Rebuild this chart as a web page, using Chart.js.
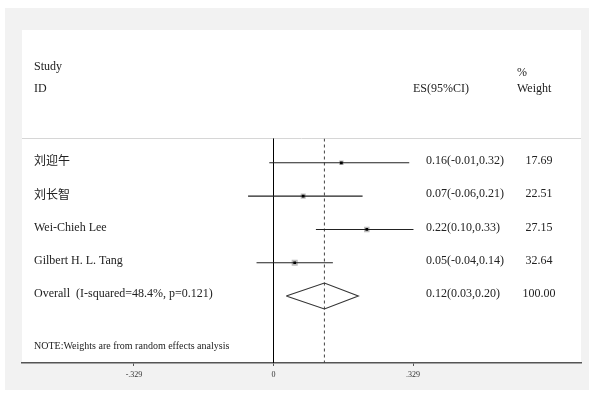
<!DOCTYPE html>
<html>
<head>
<meta charset="utf-8">
<script src="https://cdn.jsdelivr.net/npm/chart.js@4.4.1/dist/chart.umd.min.js"></script>
<style>
  html, body { margin: 0; padding: 0; background: #fff; }
  #wrap { width: 589px; height: 394px; }
</style>
</head>
<body>
<div id="wrap"><canvas id="forest" width="589" height="394"></canvas></div>
<script>
// individual studies
const studies = ['刘迎午', '刘长智', 'Wei-Chieh Lee', 'Gilbert H. L. Tang'];
const effects = [0.16, 0.07, 0.22, 0.05];
const lowerCI = [-0.01, -0.06, 0.10, -0.04];
const upperCI = [0.32, 0.21, 0.33, 0.14];
const weights = [17.69, 22.51, 27.15, 32.64];

// pooled (random effects) estimate
const overallLabel = 'Overall  (I-squared=48.4%, p=0.121)';
const overallEffect = 0.12;
const overallCI = [0.03, 0.20];
const overallWeight = 100.00;

// x axis ticks
const tickValues = [-0.329, 0, 0.329];
const tickLabels = ['-.329', '0', '.329'];

const noteText = 'NOTE:Weights are from random effects analysis';

const SERIF = '"Liberation Serif", "Times New Roman", serif';
const CJK = '"Noto Sans CJK SC", sans-serif';
const overallRow = studies.length;
const yTop = -0.73;
const yBottom = 6.01;

function fmtCI(e, lo, hi) {
    return e.toFixed(2) + '(' + lo.toFixed(2) + ',' + hi.toFixed(2) + ')';
}

// chart.js paints low "order" values last, i.e. on top
const pointEst = {
    order: 0,
    data: effects.map((e, i) => ({ x: e, y: i })),
    pointStyle: 'rect',
    pointRadius: 1.9,
    backgroundColor: '#000',
    borderWidth: 0
};

// CI whiskers, one little line dataset per study
const ciSets = studies.map((s, i) => ({
    order: 1,
    data: [{ x: lowerCI[i], y: i }, { x: upperCI[i], y: i }],
    showLine: true,
    borderColor: '#222',
    borderWidth: 1.1,
    pointRadius: 0
}));

// grey boxes, area proportional to weight
const weightBoxes = {
    order: 2,
    data: effects.map((e, i) => ({ x: e, y: i })),
    pointStyle: 'rect',
    pointRadius: weights.map(w => 0.75 * Math.sqrt(w)),
    backgroundColor: '#bdbdbd',
    borderWidth: 0
};

const diamondHalf = 0.39;
const diamond = {
    order: 3,
    data: [
        { x: overallCI[0], y: overallRow },
        { x: overallEffect, y: overallRow - diamondHalf },
        { x: overallCI[1], y: overallRow },
        { x: overallEffect, y: overallRow + diamondHalf },
        { x: overallCI[0], y: overallRow }
    ],
    showLine: true,
    borderColor: '#333',
    borderWidth: 1.1,
    pointRadius: 0
};

const zeroLine = {
    order: 4,
    data: [{ x: 0, y: yTop }, { x: 0, y: yBottom }],
    showLine: true,
    borderColor: '#000',
    borderWidth: 1,
    pointRadius: 0
};

const pooledLine = {
    order: 4,
    data: [{ x: overallEffect, y: yTop }, { x: overallEffect, y: yBottom }],
    showLine: true,
    borderColor: '#444',
    borderWidth: 1,
    borderDash: [3, 3],
    pointRadius: 0
};

// page frame: grey surround with white plot panel
const framePlugin = {
    id: 'frame',
    beforeDraw(chart) {
        const ctx = chart.ctx;
        ctx.save();
        ctx.fillStyle = '#f2f2f2';
        ctx.fillRect(5, 8, 584, 382);
        ctx.fillStyle = '#fff';
        ctx.fillRect(22, 30, 559, 333);
        // thin rule under the header
        ctx.strokeStyle = '#d6d6d6';
        ctx.lineWidth = 1;
        ctx.beginPath();
        ctx.moveTo(22, 138.5);
        ctx.lineTo(581, 138.5);
        ctx.stroke();
        ctx.restore();
    }
};

// text columns: study names, ES(95%CI) and weights
const textPlugin = {
    id: 'columns',
    afterDraw(chart) {
        const ctx = chart.ctx;
        const y = chart.scales.y;
        ctx.save();
        ctx.fillStyle = '#222';
        ctx.textBaseline = 'middle';
        ctx.font = '12px ' + SERIF;

        ctx.textAlign = 'left';
        ctx.fillText('Study', 34, 67);
        ctx.fillText('ID', 34, 89);
        ctx.fillText('ES(95%CI)', 413, 89);
        ctx.fillText('%', 517, 73);
        ctx.fillText('Weight', 517, 89);

        studies.forEach((s, i) => {
            const py = y.getPixelForValue(i) - 2;
            ctx.textAlign = 'left';
            ctx.font = (/[\u4e00-\u9fff]/.test(s) ? '12px ' + CJK : '12px ' + SERIF);
            ctx.fillText(s, 34, py);
            ctx.font = '12px ' + SERIF;
            ctx.fillText(fmtCI(effects[i], lowerCI[i], upperCI[i]), 426, py);
            ctx.textAlign = 'center';
            ctx.fillText(weights[i].toFixed(2), 539, py);
        });

        const oy = y.getPixelForValue(overallRow) - 2;
        ctx.textAlign = 'left';
        ctx.fillText(overallLabel, 34, oy);
        ctx.fillText(fmtCI(overallEffect, overallCI[0], overallCI[1]), 426, oy);
        ctx.textAlign = 'center';
        ctx.fillText(overallWeight.toFixed(2), 539, oy);

        ctx.textAlign = 'left';
        ctx.font = '10px ' + SERIF;
        ctx.fillText(noteText, 34, 346);
        ctx.restore();
    }
};

new Chart(document.getElementById('forest'), {
    type: 'scatter',
    data: {
        datasets: [pointEst, ...ciSets, weightBoxes, diamond, zeroLine, pooledLine]
    },
    options: {
        responsive: false,
        animation: false,
        devicePixelRatio: 1,
        layout: { padding: { left: 22, right: 8, top: 138.5, bottom: 0 } },
        plugins: { legend: { display: false }, tooltip: { enabled: false } },
        scales: {
            x: {
                type: 'linear',
                min: -0.593,
                max: 0.725,
                afterBuildTicks(scale) {
                    scale.ticks = tickValues.map(v => ({ value: v }));
                },
                afterFit(scale) {
                    scale.height = 31;
                },
                ticks: {
                    callback: (v, idx) => tickLabels[idx],
                    color: '#333',
                    font: { family: SERIF, size: 8 },
                    padding: 4,
                    maxRotation: 0
                },
                grid: { drawOnChartArea: false, drawTicks: true, tickLength: 3, color: '#555' },
                border: { color: '#555', width: 1.5 }
            },
            y: {
                type: 'linear',
                reverse: true,
                min: yTop,
                max: yBottom,
                display: false
            }
        }
    },
    plugins: [framePlugin, textPlugin]
});
</script>
</body>
</html>
